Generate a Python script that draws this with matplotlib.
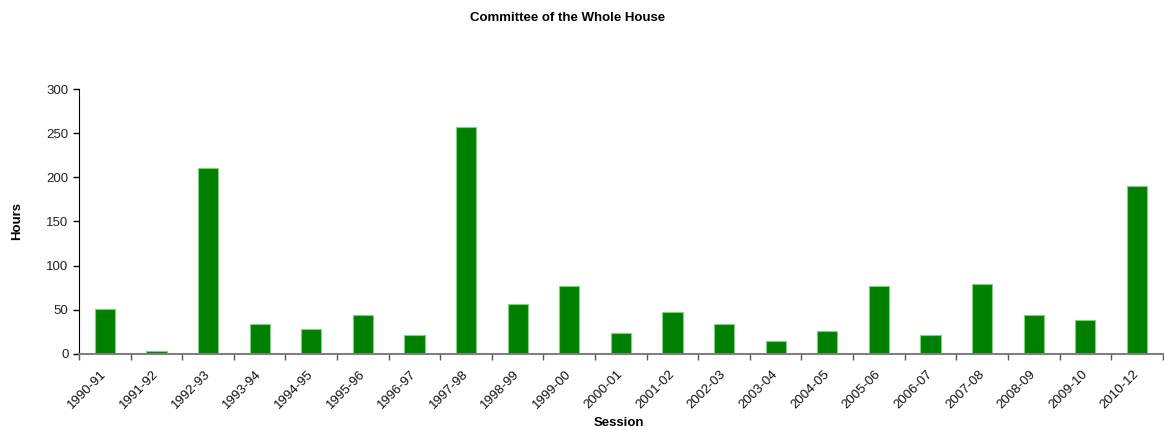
import matplotlib
matplotlib.use("Agg")
import matplotlib.pyplot as plt
import numpy as np

sessions = ["1990-91", "1991-92", "1992-93", "1993-94", "1994-95", "1995-96",
            "1996-97", "1997-98", "1998-99", "1999-00", "2000-01", "2001-02",
            "2002-03", "2003-04", "2004-05", "2005-06", "2006-07", "2007-08",
            "2008-09", "2009-10", "2010-12"]
hours = [51, 3, 211, 34, 28, 44, 21, 257, 57, 77, 24, 48, 34, 15, 26, 77,
         21, 79, 44, 38, 190]

plt.rcParams["font.family"] = ["Liberation Sans", "DejaVu Sans"]

fig = plt.figure(figsize=(11.64, 4.30), dpi=100)
ax = fig.add_axes([0.0679, 0.177, 0.931, 0.616])

x = np.arange(len(sessions))
ax.bar(x, hours, width=0.39, color="#008000", edgecolor="#7fd07f",
       linewidth=0.8, zorder=2)

ax.set_xlim(-0.5, len(sessions) - 0.5)
ax.set_ylim(0, 300)
ax.set_yticks(np.arange(0, 301, 50))
ax.tick_params(axis="y", labelsize=9.5, direction="out", length=4,
               width=1, colors="black")
ax.tick_params(axis="y", labelcolor="#222222")

# category ticks sit on the boundaries between bars
ax.set_xticks(np.arange(len(sessions) + 1) - 0.5, minor=False)
ax.set_xticklabels([""] * (len(sessions) + 1))
ax.tick_params(axis="x", direction="out", length=4, width=1, color="#555555")
for xi, lab in zip(x, sessions):
    ax.annotate(lab, xy=(xi, 0), xycoords=("data", "axes fraction"),
                xytext=(-3, -10), textcoords="offset points",
                rotation=45, ha="right", va="top", fontsize=9.5,
                rotation_mode="anchor", color="#111111")

for side in ("top", "right"):
    ax.spines[side].set_visible(False)
ax.spines["left"].set_color("black")
ax.spines["bottom"].set_color("#7f7f7f")
ax.spines["bottom"].set_linewidth(1.5)

fig.text(0.488, 0.958, "Committee of the Whole House", ha="center",
         va="center", fontsize=9.5, fontweight="bold")
fig.text(0.0146, 0.485, "Hours", ha="center", va="center", rotation=90,
         fontsize=9.5, fontweight="bold")
fig.text(0.532, 0.016, "Session", ha="center", va="center",
         fontsize=9.5, fontweight="bold")

fig.savefig("out.png", dpi=100)
